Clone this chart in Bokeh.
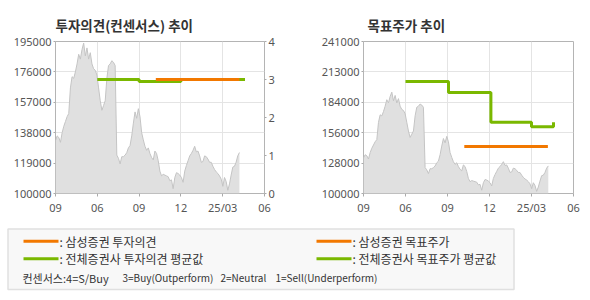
import numpy as np
from bokeh.plotting import figure
from bokeh.models import Range1d, LinearAxis, FixedTicker
from bokeh.layouts import column, row
from bokeh.core.properties import value
from bokeh.embed import file_html
from bokeh.resources import INLINE

# ---------------- data ----------------
x_tick_pos = [0, 3, 6, 9, 12, 15]
x_tick_labels = ["09", "06", "09", "12", "25/03", "06"]

prices = [
    133000, 136000, 135000, 132000, 138000, 142000, 145000, 148000, 150000, 166000,
    173000, 172000, 176000, 181000, 187000, 184000, 190000, 194000, 186000, 191000,
    184000, 188000, 181000, 178000, 177000, 174000, 166000, 158000, 152000, 155000,
    158000, 172000, 180000, 181000, 183000, 182000, 180000, 124000, 122000, 118500,
    123000, 123000, 124000, 125500, 128500, 130000, 136000, 144000, 151000, 147000,
    153000, 148000, 138000, 133500, 129500, 127000, 128500, 125000, 122500, 121000,
    126500, 125000, 120500, 114000, 111000, 112000, 111500, 111000, 110500, 108000,
    108500, 103000, 110000, 113000, 112500, 111500, 110000, 107000, 114000, 117500,
    120500, 123500, 125000, 127000, 129500, 126000, 126500, 123500, 119500, 120000,
    123500, 123000, 121500, 119500, 119500, 117000, 115000, 113500, 112500, 111000,
    109000, 104500, 110000, 107500, 102000, 106000, 111500, 116500, 117000, 119500,
    123500, 125600,
]
price_start_month = 0.0
price_end_month = 13.2

# 투자의견 (consensus, 0-4)
avg_opinion_x = [3.0, 6.0, 9.0, 13.6]
avg_opinion_y = [3.0, 2.95, 3.0, 3.0]
ss_opinion_x = [7.2, 13.2]
ss_opinion_y = [3.0, 3.0]

# 목표주가
avg_target_x = [3.0, 6.07, 9.1, 12.0, 13.57]
avg_target_y = [204000, 193700, 166000, 162000, 166000]
ss_target_x = [7.2, 13.17]
ss_target_y = [143600, 143600]

left_y_ticks = [100000, 119000, 138000, 157000, 176000, 195000]
opinion_ticks = [0, 1, 2, 3, 4]
right_y_labels = ["100000", "128000", "156000", "184000", "213000", "241000"]

ORANGE = "#f27800"
GREEN = "#7ab800"
KFONT = "Noto Sans CJK KR"
TICK_COLOR = "#555555"

price_x = np.linspace(price_start_month, price_end_month, len(prices))


def style(p, title_offset):
    p.title.align = "left"
    p.title.text_font = KFONT
    p.title.text_font_size = "13.5px"
    p.title.text_font_style = "bold"
    p.title.text_color = "#333333"
    p.title.offset = title_offset
    p.title.standoff = 13
    p.outline_line_color = "#b4b4b4"
    p.outline_line_width = 1
    p.grid.grid_line_color = "#e4e4e4"
    p.grid.grid_line_width = 1
    p.background_fill_color = "white"
    p.border_fill_color = "white"
    for ax in p.axis:
        ax.axis_line_color = None
        ax.major_tick_line_color = "#aaaaaa"
        ax.minor_tick_line_color = None
        ax.major_tick_in = 0
        ax.major_tick_out = 2
        ax.major_label_text_font = "Noto Sans"
        ax.major_label_text_font_size = "11px"
        ax.major_label_text_color = TICK_COLOR
        ax.major_label_standoff = 2
    p.xaxis.ticker = FixedTicker(ticks=x_tick_pos)
    p.xaxis.major_label_overrides = {t: l for t, l in zip(x_tick_pos, x_tick_labels)}
    p.xaxis.major_tick_out = 3
    p.xaxis.major_label_standoff = 3
    p.xgrid.ticker = FixedTicker(ticks=x_tick_pos)


# ---------------- left chart ----------------
p1 = figure(width=295, height=220, x_range=Range1d(0, 15), y_range=Range1d(100000, 195000),
            output_backend="svg", toolbar_location=None, title="투자의견(컨센서스) 추이",
            min_border_left=55, min_border_right=31, min_border_top=41, min_border_bottom=27)
p1.extra_y_ranges = {"op": Range1d(0, 4)}
p1.add_layout(LinearAxis(y_range_name="op"), "right")
style(p1, 0)
p1.yaxis[0].ticker = FixedTicker(ticks=left_y_ticks)
p1.yaxis[1].ticker = FixedTicker(ticks=opinion_ticks)
p1.yaxis[0].formatter.use_scientific = False
p1.ygrid.ticker = FixedTicker(ticks=left_y_ticks)

p1.varea(x=price_x, y1=100000, y2=prices, fill_color="#e0e0e0")
p1.line(price_x, prices, line_color="#c4c4c4", line_width=1)
p1.step(avg_opinion_x, avg_opinion_y, mode="after", line_color=GREEN, line_width=3, y_range_name="op")
p1.line(ss_opinion_x, ss_opinion_y, line_color=ORANGE, line_width=3, y_range_name="op")

# ---------------- right chart ----------------
right_tick_pos = list(np.linspace(100000, 241000, len(right_y_labels)))
p2 = figure(width=295, height=220, x_range=Range1d(0, 15), y_range=Range1d(100000, 241000),
            output_backend="svg", toolbar_location=None, title="목표주가 추이",
            min_border_left=68, min_border_right=17, min_border_top=41, min_border_bottom=27)
style(p2, 4)
p2.yaxis.ticker = FixedTicker(ticks=right_tick_pos)
p2.yaxis.major_label_overrides = {t: l for t, l in zip(right_tick_pos, right_y_labels)}
p2.ygrid.ticker = FixedTicker(ticks=right_tick_pos)

p2.varea(x=price_x, y1=100000, y2=prices, fill_color="#e0e0e0")
p2.line(price_x, prices, line_color="#c4c4c4", line_width=1)
p2.step(avg_target_x, avg_target_y, mode="after", line_color=GREEN, line_width=3)
p2.line(ss_target_x, ss_target_y, line_color=ORANGE, line_width=3)

# ---------------- legend panel ----------------
p3 = figure(width=590, height=80, x_range=Range1d(0, 590), y_range=Range1d(80, 0),
            output_backend="svg", toolbar_location=None, min_border=0)
p3.axis.visible = False
p3.grid.visible = False
p3.outline_line_color = None
p3.quad(left=7.5, right=513.5, top=8.5, bottom=69, fill_color="#f8f8f8",
        line_color="#e0e0e0", line_width=1.5)

legend_texts = [": 삼성증권 투자의견", ": 전체증권사 투자의견 평균값",
                ": 삼성증권 목표주가", ": 전체증권사 목표주가 평균값"]
legend_colors = [ORANGE, GREEN, ORANGE, GREEN]
lx = [23, 23, 316, 316]
ly = [20.7, 38.3, 20.7, 38.3]
p3.segment(x0=lx, x1=[v + 35 for v in lx], y0=ly, y1=ly, line_color=legend_colors, line_width=3)
p3.text(x=[v + 36 for v in lx], y=ly, text=legend_texts, text_font=value(KFONT),
        text_font_size="12px", text_color="#333333", text_baseline="middle")

consensus_head = ["컨센서스:4=S/Buy"]
consensus_parts = ["3=Buy(Outperform)", "2=Neutral", "1=Sell(Underperform)"]
p3.text(x=[22], y=[57.3], text=consensus_head, text_font=value(KFONT),
        text_font_size="11px", text_color="#333333", text_baseline="middle")
p3.text(x=[122, 220, 275], y=[57.3] * 3, text=consensus_parts, text_font=value(KFONT),
        text_font_size="10px", text_color="#333333", text_baseline="middle")

layout = column(row(p1, p2), p3)
open("out.html", "w").write(file_html(layout, INLINE))
